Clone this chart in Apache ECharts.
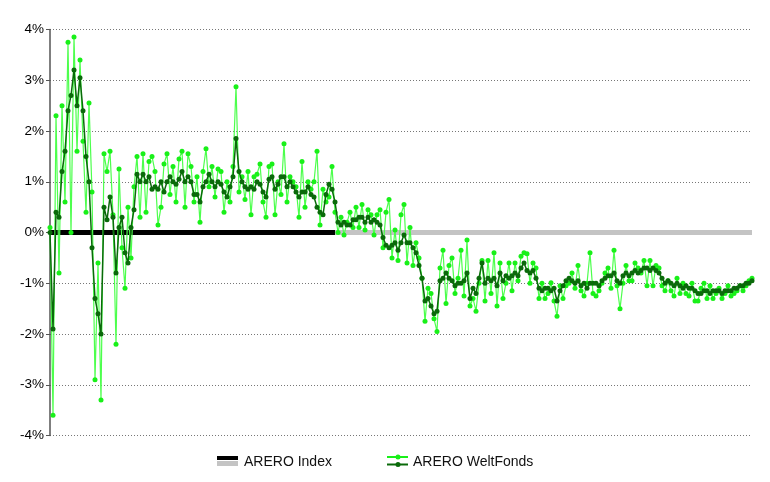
<!DOCTYPE html>
<html>
<head>
<meta charset="utf-8">
<script src="https://cdn.jsdelivr.net/npm/echarts@6/dist/echarts.min.js"></script>
<style>html,body{margin:0;padding:0;background:#fff}#c{width:770px;height:482px}</style>
</head>
<body>
<div id="c"></div>
<script>
// ARERO WeltFonds, relative performance vs. ARERO Index (in %)
const fondsDark = [
 0.0,-1.9,0.4,0.3,1.2,1.6,2.4,2.7,3.2,2.5,3.05,2.4,1.5,1.0,-0.3,-1.3,-1.6,-2.0,0.5,0.25,
 0.7,0.3,-0.8,0.1,0.3,-0.4,-0.6,0.1,0.45,1.15,1.0,1.15,1.0,1.1,0.85,0.9,0.85,1.0,0.8,1.0,
 1.1,1.0,0.95,1.05,1.2,1.0,1.1,1.0,0.75,0.75,0.6,0.9,1.0,1.15,1.0,0.9,1.0,0.95,0.8,0.7,
 0.9,1.1,1.85,1.2,1.0,0.9,0.85,0.9,0.85,1.0,0.95,0.8,0.7,1.05,1.1,0.85,0.95,1.1,1.1,0.9,
 1.0,0.9,0.8,0.7,0.8,0.8,0.9,0.75,0.7,0.5,0.4,0.35,0.75,0.95,0.85,0.6,0.2,0.15,0.2,0.15,
 0.15,0.25,0.25,0.3,0.3,0.2,0.3,0.2,0.25,0.2,0.15,-0.1,-0.25,-0.3,-0.25,-0.2,-0.35,-0.2,-0.05,-0.2,
 -0.2,-0.3,-0.4,-0.65,-0.9,-1.35,-1.3,-1.45,-1.6,-1.55,-0.95,-0.9,-0.8,-0.9,-0.95,-1.05,-1.0,-1.0,-0.95,-0.8,
 -1.3,-1.1,-1.2,-0.9,-0.6,-1.0,-0.9,-0.95,-0.9,-1.05,-0.8,-0.95,-0.85,-0.9,-0.85,-0.8,-0.85,-0.7,-0.6,-0.75,
 -0.8,-0.75,-0.9,-1.1,-1.15,-1.1,-1.1,-1.15,-1.1,-1.35,-1.15,-1.05,-0.95,-0.9,-0.95,-1.0,-0.95,-1.05,-1.0,-1.1,
 -1.0,-1.0,-1.0,-1.05,-0.95,-0.9,-0.85,-0.85,-0.8,-0.95,-1.0,-0.85,-0.8,-0.85,-0.8,-0.75,-0.8,-0.75,-0.7,-0.7,
 -0.75,-0.7,-0.75,-0.8,-0.9,-1.0,-0.95,-1.0,-1.05,-1.0,-1.05,-1.1,-1.05,-1.1,-1.1,-1.15,-1.2,-1.2,-1.15,-1.15,
 -1.2,-1.15,-1.15,-1.15,-1.2,-1.15,-1.15,-1.15,-1.1,-1.1,-1.05,-1.05,-1.0,-1.0,-0.95
];
const fondsBright = [
 0.1,-3.6,2.3,-0.8,2.5,0.6,3.75,0.0,3.85,1.6,3.4,1.8,0.4,2.55,0.8,-2.9,-0.6,-3.3,1.55,1.2,
 1.6,0.35,-2.2,1.25,-0.3,-1.1,0.5,-0.5,0.9,1.5,0.3,1.55,0.4,1.4,1.5,1.2,0.15,0.5,1.35,1.55,
 0.75,1.3,0.6,1.45,1.6,0.5,1.55,1.3,0.6,1.1,0.2,1.2,1.65,0.9,1.3,0.7,1.25,1.2,0.4,1.0,
 0.6,1.3,2.87,0.8,1.1,0.65,1.2,0.35,1.1,1.15,1.35,0.6,0.3,1.3,1.35,0.35,1.0,0.75,1.75,0.6,
 1.1,1.0,0.9,0.3,1.4,0.5,1.0,0.85,1.0,1.6,0.15,0.85,0.6,0.7,1.3,0.4,0.0,0.3,-0.05,0.2,
 0.4,0.1,0.5,0.1,0.55,0.05,0.45,0.35,-0.05,0.35,0.45,-0.3,0.4,0.65,-0.5,0.05,-0.55,0.35,0.55,-0.6,
 0.1,-0.65,-0.2,-0.5,-0.9,-1.75,-1.1,-1.2,-1.7,-1.95,-0.7,-0.35,-1.4,-0.65,-0.5,-1.2,-0.9,-0.35,-1.25,-0.15,
 -1.45,-1.3,-1.55,-1.0,-0.55,-1.35,-0.55,-1.2,-0.4,-1.45,-0.6,-1.3,-1.0,-0.6,-1.15,-0.6,-0.95,-0.47,-0.4,-0.42,
 -1.0,-0.6,-0.7,-1.3,-1.0,-1.3,-1.2,-0.99,-1.35,-1.65,-1.05,-1.3,-1.05,-1.0,-0.8,-1.1,-0.65,-1.15,-1.25,-1.0,
 -0.4,-1.2,-1.25,-1.15,-1.0,-0.8,-0.7,-1.1,-0.35,-1.05,-1.5,-1.0,-0.65,-0.95,-0.95,-0.6,-0.7,-0.8,-0.55,-1.05,
 -0.55,-1.05,-0.65,-0.7,-1.05,-1.15,-0.95,-1.15,-1.25,-0.9,-1.2,-1.0,-1.2,-1.25,-1.0,-1.35,-1.35,-1.1,-1.0,-1.3,
 -1.05,-1.3,-1.2,-1.1,-1.3,-1.2,-1.05,-1.25,-1.2,-1.15,-1.05,-1.15,-1.05,-0.95,-0.9
];
// ARERO Index (benchmark) – flat at 0 %; first period drawn black, second grey
const indexLevel = 0;
const indexSplit = 95;
const yTicks = [-4,-3,-2,-1,0,1,2,3,4];
const days = fondsDark.map((_, i) => String(i));
const indexFirst = days.map((_, i) => (i <= indexSplit ? indexLevel : null));
const indexSecond = days.map((_, i) => (i >= indexSplit ? indexLevel : null));
const seriesNames = ['ARERO Index', 'ARERO WeltFonds'];

const BRIGHT = '#19f019', BRIGHT_LINE = '#4dff4d', DARK = '#0a6a0a';
const FONT = '"Liberation Sans", Arial, sans-serif';

const chart = echarts.init(document.getElementById('c'), null, {renderer: 'canvas'});
chart.setOption({
  animation: false,
  backgroundColor: '#fff',
  grid: {left: 50, right: 18, top: 29.5, bottom: 46.5, containLabel: false},
  xAxis: {type: 'category', data: days, boundaryGap: false, show: false},
  yAxis: {
    type: 'value', min: yTicks[0], max: yTicks[yTicks.length - 1], interval: 1,
    axisLine: {show: true, lineStyle: {color: '#555', width: 1.5}},
    axisTick: {show: true, length: 4, lineStyle: {color: '#555'}},
    axisLabel: {formatter: '{value}%', color: '#000', fontSize: 13.5, fontFamily: FONT, margin: 6},
    splitLine: {show: true, lineStyle: {color: '#777', type: [1, 2], width: 1}}
  },
  series: [
    {name: seriesNames[0], type: 'line', data: indexFirst, showSymbol: false, symbol: 'none',
     lineStyle: {width: 5, color: '#000'}, z: 1},
    {name: seriesNames[0] + ' 2', type: 'line', data: indexSecond, showSymbol: false, symbol: 'none',
     lineStyle: {width: 5, color: '#c4c4c4'}, z: 1},
    {name: seriesNames[1] + ' A', type: 'line', data: fondsBright, symbol: 'circle', symbolSize: 5,
     showAllSymbol: true, itemStyle: {color: BRIGHT}, lineStyle: {color: BRIGHT_LINE, width: 1.2}, z: 2},
    {name: seriesNames[1] + ' B', type: 'line', data: fondsDark, symbol: 'circle', symbolSize: 5,
     showAllSymbol: true, itemStyle: {color: DARK}, lineStyle: {color: DARK, width: 1.5}, z: 3}
  ],
  graphic: [
    {type: 'rect', shape: {x: 217, y: 456, width: 21, height: 4}, style: {fill: '#000'}},
    {type: 'rect', shape: {x: 217, y: 461, width: 21, height: 5}, style: {fill: '#c4c4c4'}},
    {type: 'text', x: 244, y: 462, style: {text: seriesNames[0], font: '14px ' + FONT, fill: '#111', textVerticalAlign: 'middle', verticalAlign: 'middle'}},
    {type: 'line', shape: {x1: 387, y1: 457, x2: 408, y2: 457}, style: {stroke: BRIGHT, lineWidth: 2}},
    {type: 'circle', shape: {cx: 398, cy: 457, r: 2.5}, style: {fill: BRIGHT}},
    {type: 'line', shape: {x1: 387, y1: 464.5, x2: 408, y2: 464.5}, style: {stroke: DARK, lineWidth: 2}},
    {type: 'circle', shape: {cx: 398, cy: 464.5, r: 2.5}, style: {fill: DARK}},
    {type: 'text', x: 413, y: 462, style: {text: seriesNames[1], font: '14px ' + FONT, fill: '#111', textVerticalAlign: 'middle', verticalAlign: 'middle'}}
  ]
});
</script>
</body>
</html>
